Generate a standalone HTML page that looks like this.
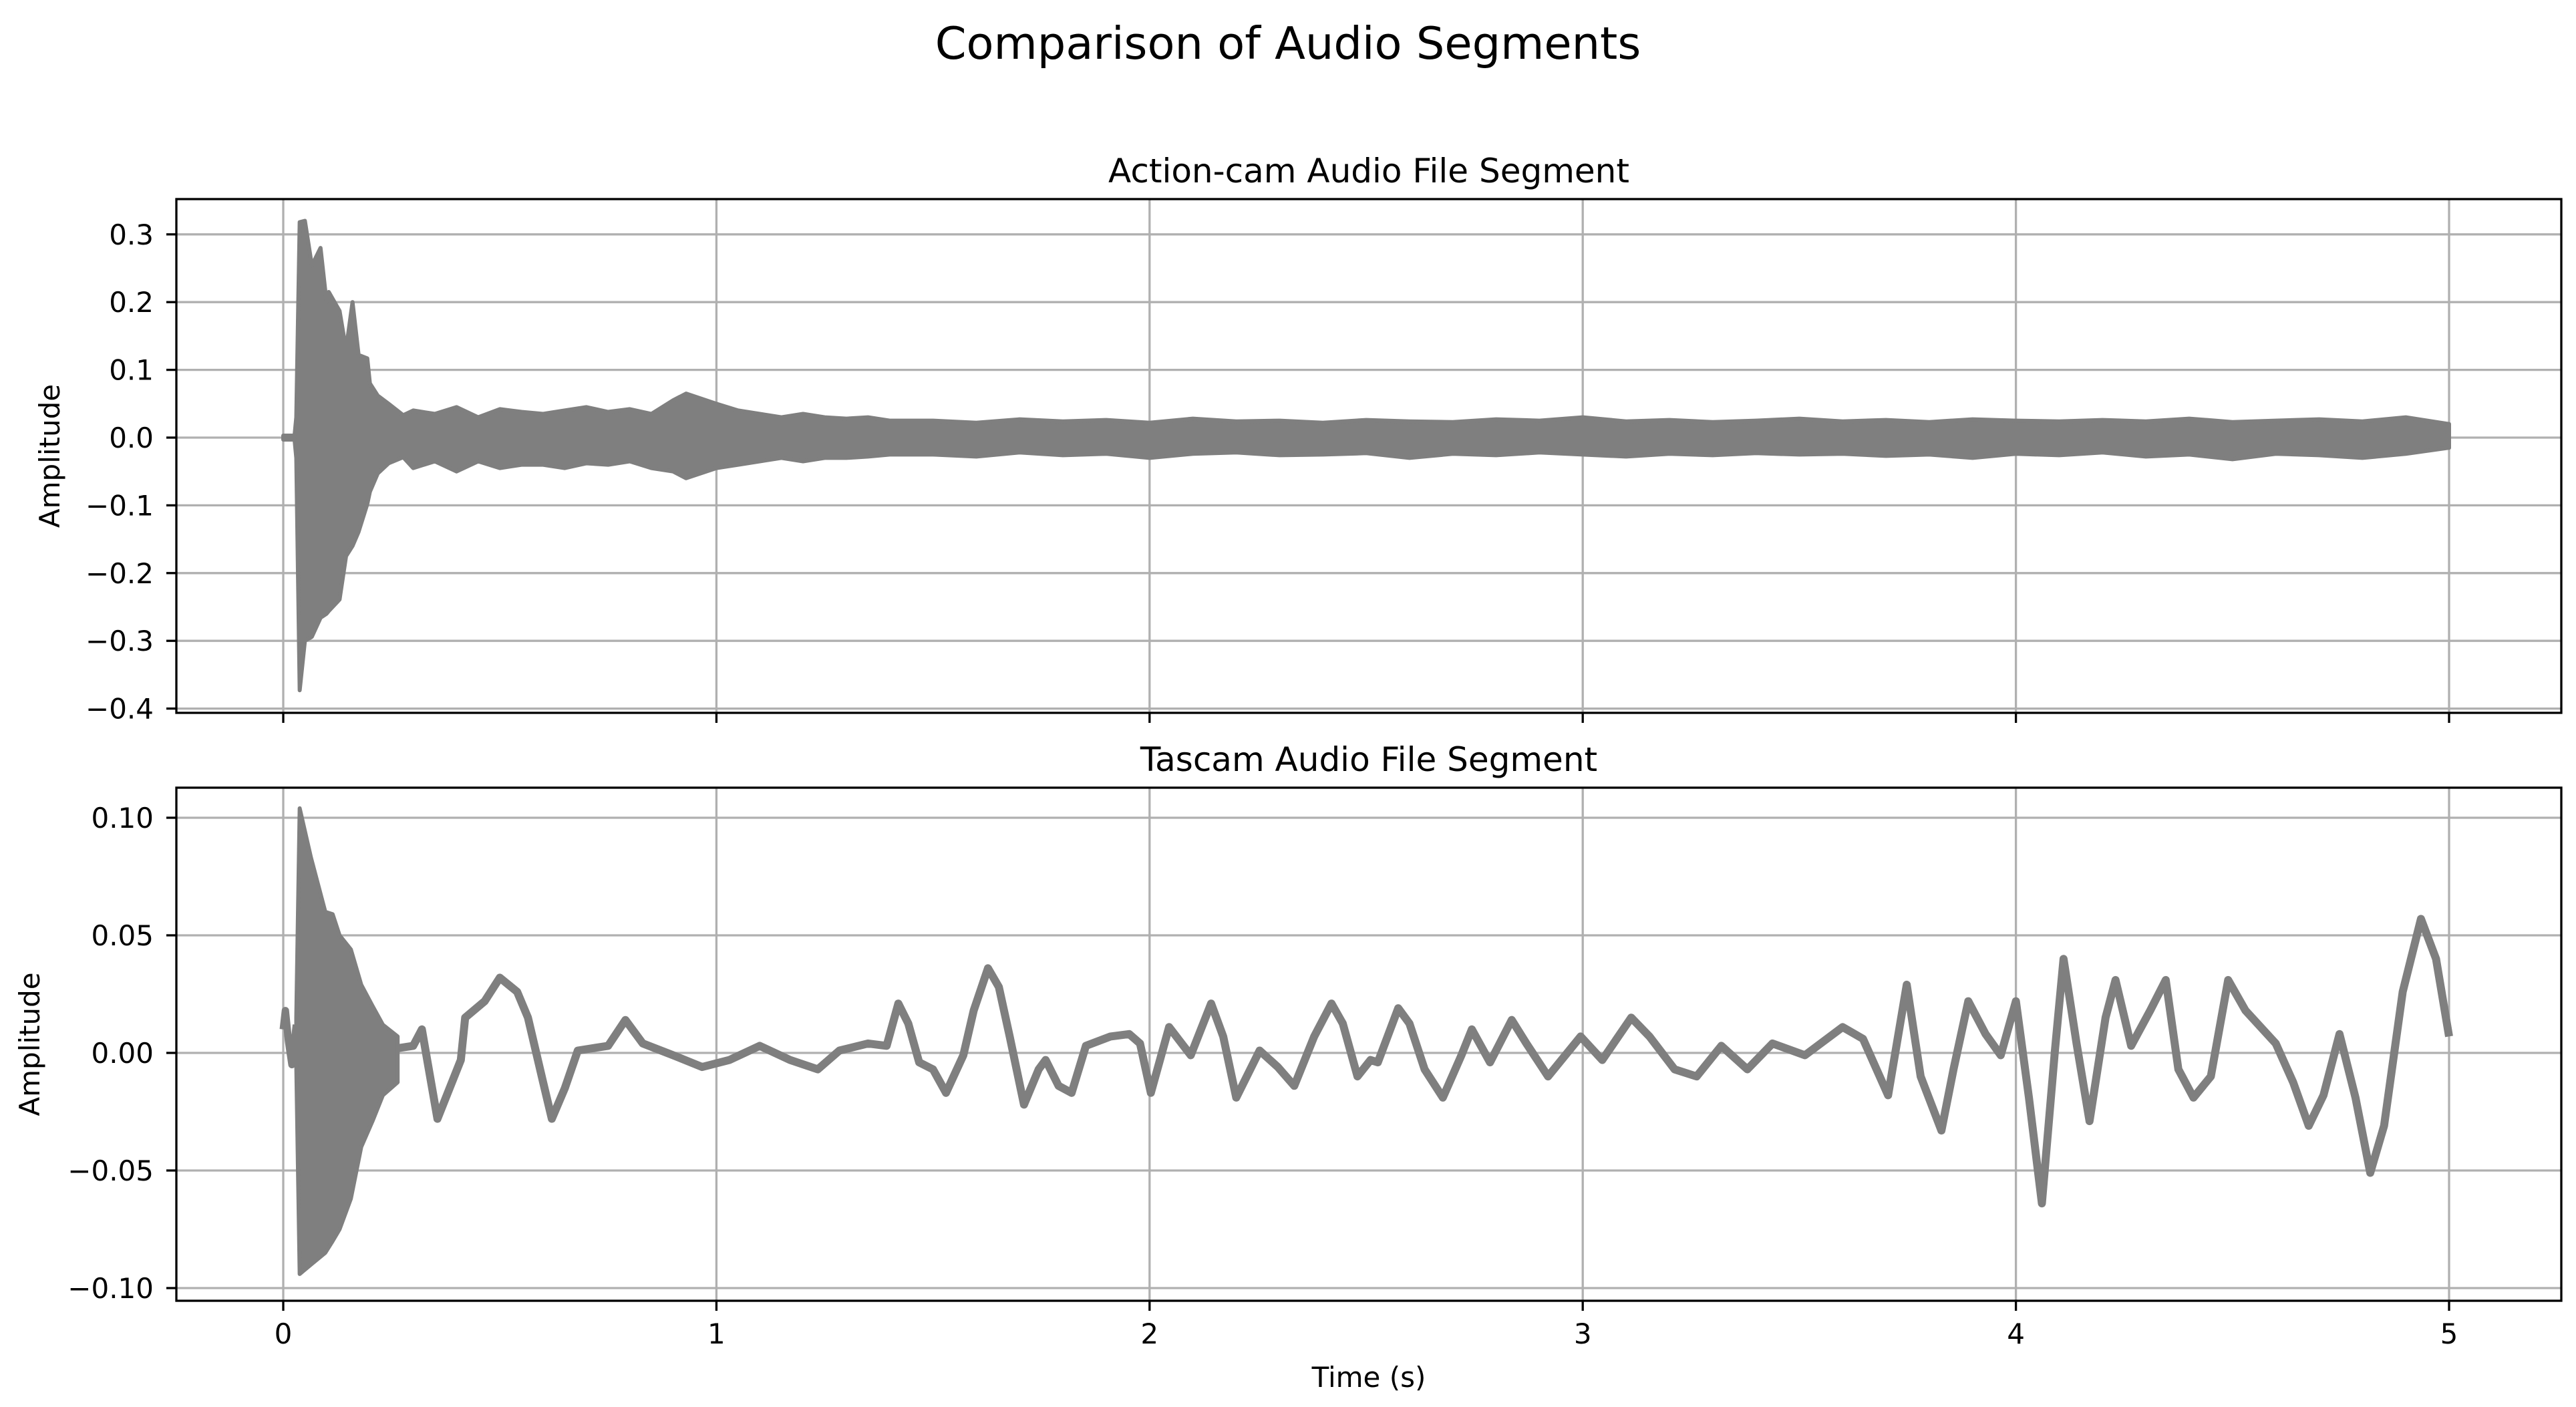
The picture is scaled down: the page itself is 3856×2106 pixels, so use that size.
<!DOCTYPE html>
<html><head><meta charset="utf-8"><style>
html,body{margin:0;padding:0;background:#fff;}
svg{display:block;font-family:"DejaVu Sans","Liberation Sans",sans-serif;}
</style></head><body>
<svg id="chart" xmlns="http://www.w3.org/2000/svg" width="3856" height="2106" viewBox="0 0 3856 2106">
<rect x="0" y="0" width="3856" height="2106" fill="#fff"/>
<text x="1928" y="88" font-size="67" text-anchor="middle">Comparison of Audio Segments</text>
<g id="top"></g>
<g id="bot"></g>
<text x="2049" y="2076" font-size="42" text-anchor="middle">Time (s)</text>
</svg>
<script>
// ---- data ----
const xTicks = [0,1,2,3,4,5];
const topYTicks = [0.3,0.2,0.1,0.0,-0.1,-0.2,-0.3,-0.4];
const topYTickLabels = ["0.3","0.2","0.1","0.0","\u22120.1","\u22120.2","\u22120.3","\u22120.4"];
const botYTicks = [0.10,0.05,0.00,-0.05,-0.10];
const botYTickLabels = ["0.10","0.05","0.00","\u22120.05","\u22120.10"];

// Action-cam envelope (max / min of waveform)
const actionTimes = [0,.026,.03,.038,.05,.066,.086,.1,.105,.13,.145,.16,.174,.194,.2,.218,.243,.277,
 .3,.35,.4,.45,.5,.55,.6,.65,.7,.75,.8,.85,.9,.93,1.0,
 1.05,1.1,1.15,1.2,1.25,1.3,1.35,1.4,
 1.5,1.6,1.7,1.8,1.9,2.0,2.1,2.2,2.3,2.4,2.5,2.6,2.7,2.8,2.9,3.0,3.1,3.2,3.3,3.4,3.5,3.6,3.7,3.8,3.9,4.0,4.1,4.2,4.3,4.4,4.5,4.6,4.7,4.8,4.9,5.0];
const actionMax = [.003,.003,.03,.318,.32,.254,.28,.2,.215,.187,.13,.2,.122,.117,.08,.062,.05,.033,
 .04,.035,.045,.03,.042,.038,.035,.04,.045,.038,.042,.035,.055,.065,.05,
 .04,.035,.03,.035,.03,.028,.03,.025,
 .025,.022,.027,.024,.026,.022,.028,.024,.025,.022,.026,.024,.023,.027,.025,.03,.024,.026,.023,.025,.028,.024,.026,.023,.027,.025,.024,.026,.024,.028,.023,.025,.027,.024,.03,.02];
const actionMin = [-.003,-.003,-.03,-.373,-.3,-.294,-.266,-.26,-.256,-.239,-.175,-.16,-.139,-.098,-.08,-.053,-.038,-.029,
 -.045,-.035,-.05,-.035,-.045,-.04,-.04,-.045,-.038,-.04,-.035,-.045,-.05,-.06,-.045,
 -.04,-.035,-.03,-.035,-.03,-.03,-.028,-.025,
 -.025,-.028,-.022,-.026,-.024,-.03,-.024,-.022,-.026,-.025,-.023,-.03,-.024,-.026,-.022,-.025,-.028,-.024,-.026,-.023,-.025,-.024,-.027,-.025,-.03,-.024,-.026,-.022,-.028,-.025,-.032,-.024,-.026,-.03,-.024,-.015];

// Tascam burst envelope
const tascamBurstTimes = [.03,.038,.064,.097,.114,.13,.156,.18,.206,.23,.264];
const tascamBurstMax = [.015,.104,.083,.06,.059,.05,.044,.029,.02,.012,.007];
const tascamBurstMin = [-.005,-.094,-.09,-.085,-.08,-.075,-.062,-.04,-.029,-.018,-.0125];
// Tascam waveform center line
const tascamPreTimes = [0,.005,.012,.02,.03];
const tascamPreValues = [.01,.018,.005,-.005,.012];
const tascamTimes = [.264,.3,.32,.356,.41,.42,.465,.5,.54,.565,.6,.62,.65,.68,.75,.79,.83,.9,.967,1.03,1.1,1.17,1.234,1.284,1.35,1.393,1.42,1.443,1.468,1.5,1.53,1.57,1.594,1.627,1.652,1.677,1.71,1.744,1.76,1.79,1.82,1.853,1.91,1.953,1.978,2.003,2.045,2.095,2.142,2.17,2.2,2.254,2.296,2.334,2.38,2.42,2.446,2.48,2.51,2.527,2.574,2.6,2.635,2.677,2.72,2.744,2.786,2.836,2.87,2.92,2.995,3.045,3.112,3.154,3.212,3.263,3.32,3.38,3.438,3.513,3.6,3.647,3.705,3.748,3.78,3.828,3.856,3.89,3.93,3.965,4.0,4.03,4.06,4.09,4.11,4.14,4.17,4.207,4.23,4.266,4.31,4.346,4.375,4.41,4.45,4.49,4.53,4.6,4.64,4.676,4.71,4.747,4.784,4.818,4.85,4.893,4.935,4.97,5.0];
const tascamValues = [.002,.003,.01,-.028,-.003,.015,.022,.032,.026,.015,-.0125,-.028,-.015,.001,.003,.014,.004,-.001,-.006,-.003,.003,-.003,-.007,.001,.004,.003,.021,.0125,-.004,-.007,-.017,-.001,.018,.036,.028,.007,-.022,-.007,-.003,-.014,-.017,.003,.007,.008,.004,-.017,.011,-.001,.021,.007,-.019,.001,-.006,-.014,.007,.021,.0125,-.01,-.003,-.004,.019,.0125,-.007,-.019,-.001,.01,-.004,.014,.004,-.01,.007,-.003,.015,.007,-.007,-.01,.003,-.007,.004,-.001,.011,.006,-.018,.029,-.01,-.033,-.007,.022,.008,-.001,.022,-.019,-.064,.001,.04,.004,-.029,.015,.031,.003,.018,.031,-.007,-.019,-.01,.031,.018,.004,-.0125,-.031,-.018,.008,-.019,-.051,-.031,.026,.057,.04,.007];

// ---- layout ----
const NS = "http://www.w3.org/2000/svg";
const L = 264, R = 3834;
const x = t => 424 + t * 648.4;
const panels = {
  top: {g: document.getElementById('top'), top: 298, bottom: 1067, y: v => 655 - v * 1014, ticks: topYTicks, labels: topYTickLabels, title: "Action-cam Audio File Segment", ylx: 74},
  bot: {g: document.getElementById('bot'), top: 1179, bottom: 1947, y: v => 1576 - v * 3520, ticks: botYTicks, labels: botYTickLabels, title: "Tascam Audio File Segment", ylx: 44}
};
function mk(tag, attrs, parent) {
  const e = document.createElementNS(NS, tag);
  for (const k in attrs) e.setAttribute(k, attrs[k]);
  parent.appendChild(e);
  return e;
}
function envPath(ts, mx, mn, y) {
  let d = "";
  ts.forEach((t, i) => { d += (i ? "L" : "M") + x(t).toFixed(1) + "," + y(mx[i]).toFixed(1); });
  for (let i = ts.length - 1; i >= 0; i--) d += "L" + x(ts[i]).toFixed(1) + "," + y(mn[i]).toFixed(1);
  return d + "Z";
}
function linePath(ts, vs, y) {
  return ts.map((t, i) => (i ? "L" : "M") + x(t).toFixed(1) + "," + y(vs[i]).toFixed(1)).join("");
}
for (const key in panels) {
  const p = panels[key], g = p.g;
  // grid
  xTicks.forEach(t => {
    const ln = mk('line', {x1: x(t), x2: x(t), y1: p.top, y2: p.bottom, stroke: '#b0b0b0', 'stroke-width': 3.3}, g);
    
    
  });
  p.ticks.forEach((v, i) => {
    const ln = mk('line', {x1: L, x2: R, y1: p.y(v), y2: p.y(v), stroke: '#b0b0b0', 'stroke-width': 3.3}, g);
    
    
    const tk = mk('line', {x1: L - 15, x2: L, y1: p.y(v), y2: p.y(v), stroke: '#000', 'stroke-width': 3.3}, g);
    
    
    const tx = mk('text', {x: 230, y: p.y(v) + 15, 'font-size': 42, 'text-anchor': 'end'}, g);
    tx.textContent = p.labels[i];
    
    
  });
  xTicks.forEach(t => {
    const tk = mk('line', {x1: x(t), x2: x(t), y1: p.bottom, y2: p.bottom + 15, stroke: '#000', 'stroke-width': 3.3}, g);
    
    
    if (key === 'bot') {
      const tx = mk('text', {x: x(t), y: p.bottom + 64, 'font-size': 42, 'text-anchor': 'middle'}, g);
      tx.textContent = String(t);
      
      
    }
  });
  // series
  if (key === 'top') {
    const env = mk('path', {d: envPath(actionTimes, actionMax, actionMin, p.y), fill: '#7f7f7f', stroke: '#7f7f7f', 'stroke-width': 6, 'stroke-linejoin': 'round'}, g);
    
    
  } else {
    const pre = mk('path', {d: linePath(tascamPreTimes, tascamPreValues, p.y), fill: 'none', stroke: '#7f7f7f', 'stroke-width': 11, 'stroke-linejoin': 'round'}, g);
    
    
    const burst = mk('path', {d: envPath(tascamBurstTimes, tascamBurstMax, tascamBurstMin, p.y), fill: '#7f7f7f', stroke: '#7f7f7f', 'stroke-width': 6, 'stroke-linejoin': 'round'}, g);
    
    
    const ln = mk('path', {d: linePath(tascamTimes, tascamValues, p.y), fill: 'none', stroke: '#7f7f7f', 'stroke-width': 12, 'stroke-linejoin': 'round'}, g);
    
    
  }
  // frame
  const fr = mk('rect', {x: L, y: p.top, width: R - L, height: p.bottom - p.top, fill: 'none', stroke: '#000', 'stroke-width': 3.3}, g);
  
  
  const ti = mk('text', {x: (L + R) / 2, y: p.top - 25, 'font-size': 50, 'text-anchor': 'middle'}, g);
  ti.textContent = p.title;
  
  
  const yl = mk('text', {x: 0, y: 0, 'font-size': 42, 'text-anchor': 'middle', transform: `translate(${p.ylx + 15},${(p.top + p.bottom) / 2}) rotate(-90)`}, g);
  yl.textContent = 'Amplitude';
  
  
}
</script>
</body></html>
